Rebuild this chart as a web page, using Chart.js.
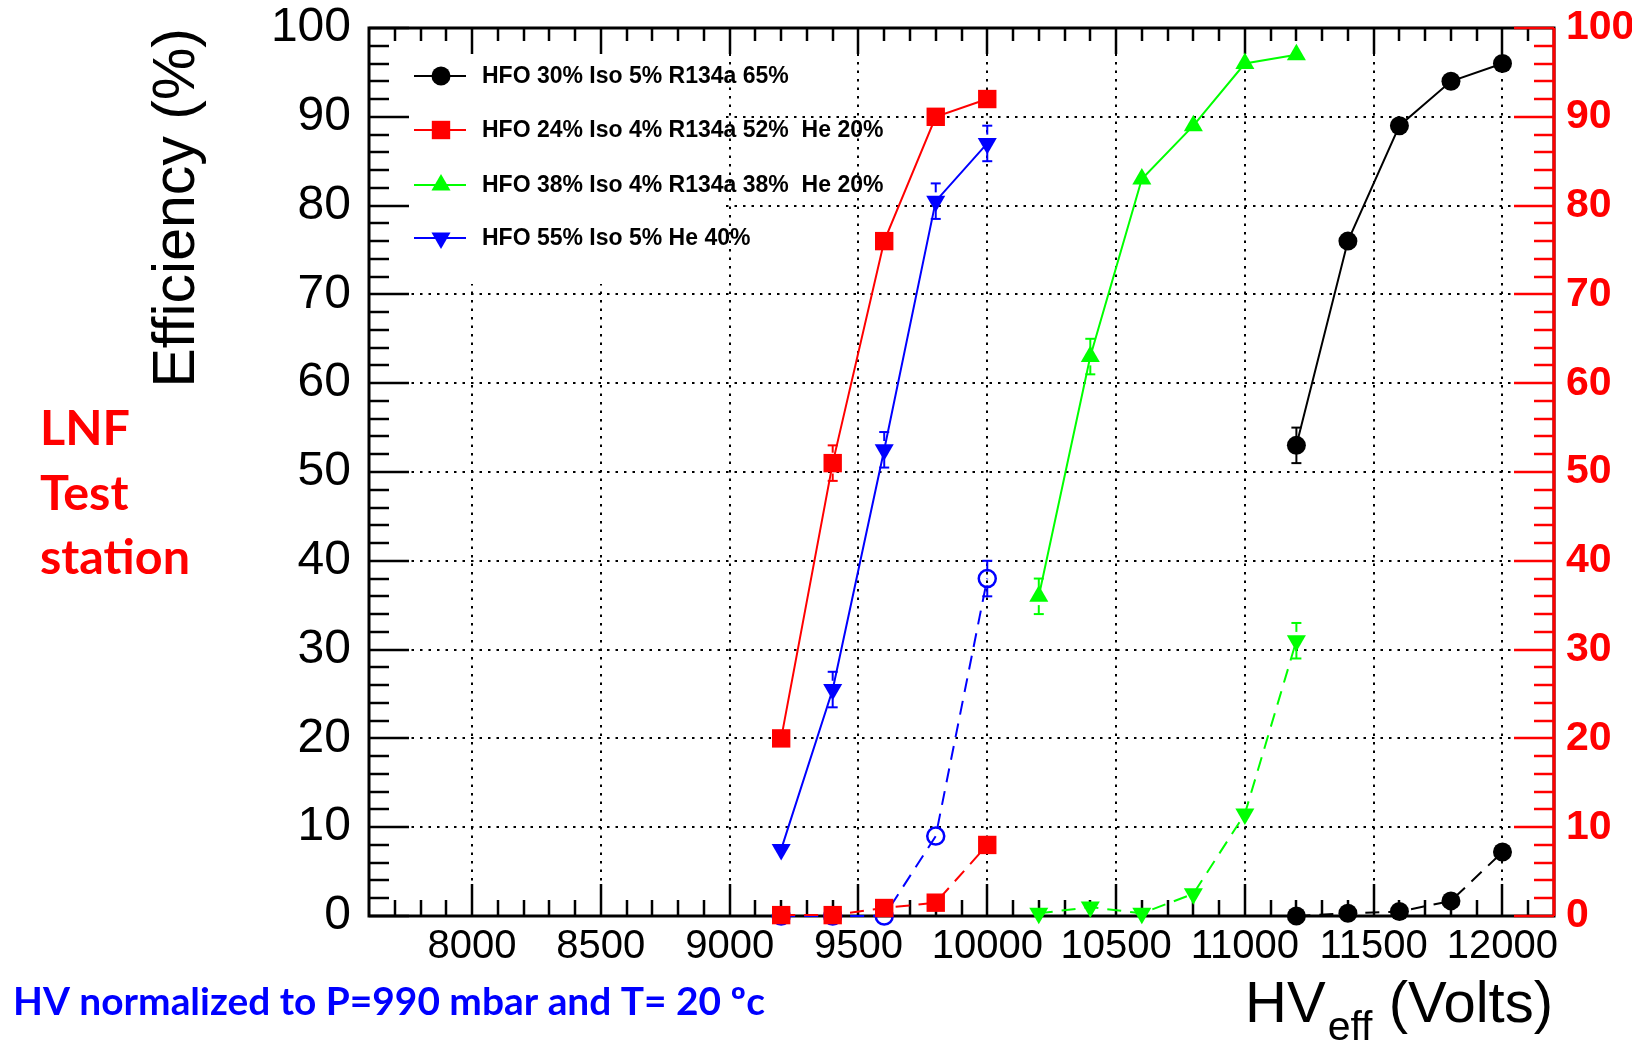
<!DOCTYPE html>
<html>
<head>
<meta charset="utf-8">
<script src="https://cdn.jsdelivr.net/npm/chart.js@4.4.1/dist/chart.umd.min.js"></script>
<style>
  html, body { margin: 0; padding: 0; background: #fff; }
  #wrap { width: 1632px; height: 1043px; }
</style>
</head>
<body>
<div id="wrap"><canvas id="c" width="1632" height="1043"></canvas></div>
<script>
// HV (volts) and efficiency (%); dashed = second curve of each mixture
const hvBlack = [11200, 11400, 11600, 11800, 12000];
const effBlack = [53, 76, 89, 94, 96];
const errBlack = [2, 0, 0, 0, 0];
const effBlackDash = [0, 0.3, 0.5, 1.7, 7.2];

const hvRed = [9200, 9400, 9600, 9800, 10000];
const effRed = [20, 51, 76, 90, 92];
const errRed = [0, 2, 0, 0, 0];
const effRedDash = [0.1, 0.1, 0.9, 1.5, 8];

const hvGreen = [10200, 10400, 10600, 10800, 11000, 11200];
const effGreen = [36, 63, 83, 89, 96, 97];
const errGreen = [2, 2, 0, 0, 0, 0];
const effGreenDash = [0.3, 1.0, 0.3, 2.5, 11.5, 31];
const errGreenDash = [0, 0, 0, 0, 0, 2];

const hvBlue = [9200, 9400, 9600, 9800, 10000];
const effBlue = [7.5, 25.5, 52.5, 80.5, 87];
const errBlue = [0, 2, 2, 2, 2];
const effBlueDash = [0, 0, 0, 9, 38];
const errBlueDash = [0, 0, 0, 0, 2];

const xTickValues = [8000, 8500, 9000, 9500, 10000, 10500, 11000, 11500, 12000];
const legendLabels = [
  'HFO 30% Iso 5% R134a 65%',
  'HFO 24% Iso 4% R134a 52%  He 20%',
  'HFO 38% Iso 4% R134a 38%  He 20%',
  'HFO 55% Iso 5% He 40%',
];

const SANS = '"Liberation Sans", Arial, Helvetica, sans-serif';
const CAL = 'Lato, "Open Sans", sans-serif';

const CIRCLE = { style: 'circle', r: 9.5 };
const SQUARE = { style: 'rect', r: 13 };
const TRI_UP = { style: 'triangle', r: 11 };
const TRI_DOWN = { style: 'triangle', r: 11, rot: 180 };
const OPEN = { style: 'circle', r: 8.5, open: true };

function pts(xs, ys, errs) {
  return xs.map((x, i) => ({ x, y: ys[i], err: errs ? errs[i] : 0 }));
}

function makeSeries(label, xs, ys, errs, color, marker, dashed) {
  return {
    label,
    data: pts(xs, ys, errs),
    borderColor: color,
    backgroundColor: color,
    borderWidth: 2,
    borderDash: dashed ? [14, 9] : [],
    pointStyle: marker.style,
    pointRadius: marker.r,
    pointHoverRadius: marker.r,
    pointRotation: marker.rot || 0,
    pointBackgroundColor: marker.open ? 'rgba(0,0,0,0)' : color,
    pointBorderColor: color,
    pointBorderWidth: marker.open ? 2.5 : 0,
    marker,
    tension: 0,
    fill: false,
    clip: false,
    yAxisID: 'y',
  };
}

const datasets = [
  makeSeries(legendLabels[0], hvBlack, effBlack, errBlack, '#000000', CIRCLE, false),
  makeSeries('', hvBlack, effBlackDash, null, '#000000', CIRCLE, true),
  makeSeries(legendLabels[1], hvRed, effRed, errRed, '#ff0000', SQUARE, false),
  makeSeries('', hvRed, effRedDash, null, '#ff0000', SQUARE, true),
  makeSeries(legendLabels[2], hvGreen, effGreen, errGreen, '#00ff00', TRI_UP, false),
  makeSeries('', hvGreen, effGreenDash, errGreenDash, '#00ff00', TRI_DOWN, true),
  makeSeries(legendLabels[3], hvBlue, effBlue, errBlue, '#0000ff', TRI_DOWN, false),
  makeSeries('', hvBlue, effBlueDash, errBlueDash, '#0000ff', OPEN, true),
];

function seg(ctx, x1, y1, x2, y2) {
  ctx.beginPath();
  ctx.moveTo(x1, y1);
  ctx.lineTo(x2, y2);
  ctx.stroke();
}

function fitFont(ctx, text, weight, family, width) {
  ctx.font = `${weight} 40px ${family}`;
  return 40 * width / ctx.measureText(text).width;
}

function noPad(s) {
  s.paddingTop = 0;
  s.paddingBottom = 0;
  s.paddingLeft = 0;
  s.paddingRight = 0;
}

const rootFrame = {
  id: 'rootFrame',
  beforeDatasetsDraw(chart) {
    const { ctx, chartArea: a, scales: { x, y } } = chart;
    ctx.save();

    // dotted grid
    ctx.strokeStyle = '#000';
    ctx.lineWidth = 2;
    ctx.setLineDash([2.5, 6]);
    xTickValues.forEach((v) => {
      const px = Math.round(x.getPixelForValue(v));
      seg(ctx, px, a.top, px, a.bottom);
    });
    for (let v = 10; v < 100; v += 10) {
      const py = Math.round(y.getPixelForValue(v));
      seg(ctx, a.left, py, a.right, py);
    }
    ctx.setLineDash([]);

    // legend box hides the grid
    ctx.fillStyle = '#fff';
    ctx.fillRect(a.left, a.top, 353, 256);

    // frame
    ctx.strokeStyle = '#000';
    ctx.lineWidth = 3;
    ctx.strokeRect(a.left, a.top, a.right - a.left, a.bottom - a.top);

    // x ticks (bottom + top)
    ctx.lineWidth = 2.5;
    for (let v = 7700; v <= 12100; v += 100) {
      const px = Math.round(x.getPixelForValue(v));
      const major = v % 500 === 0;
      seg(ctx, px, a.bottom, px, a.bottom - (major ? 32 : 16));
      seg(ctx, px, a.top, px, a.top + (major ? 26 : 13));
    }
    // left y ticks
    for (let v = 0; v <= 100; v += 2) {
      const py = Math.round(y.getPixelForValue(v));
      seg(ctx, a.left, py, a.left + (v % 10 === 0 ? 40 : 20), py);
    }
    // right (red) axis
    ctx.strokeStyle = '#ff0000';
    ctx.lineWidth = 3;
    seg(ctx, a.right, a.top, a.right, a.bottom);
    ctx.lineWidth = 2.5;
    for (let v = 0; v <= 100; v += 2) {
      const py = Math.round(y.getPixelForValue(v));
      seg(ctx, a.right, py, a.right - (v % 10 === 0 ? 40 : 20), py);
    }

    // error bars, gap where the marker sits
    chart.data.datasets.forEach((ds) => {
      ctx.strokeStyle = ds.borderColor;
      ctx.lineWidth = 2;
      ds.data.forEach((p) => {
        if (!p.err) return;
        const px = x.getPixelForValue(p.x);
        const py = y.getPixelForValue(p.y);
        const hi = y.getPixelForValue(p.y + p.err);
        const lo = y.getPixelForValue(p.y - p.err);
        const gap = ds.marker.r * 0.8;
        if (py - hi > gap) seg(ctx, px, hi, px, py - gap);
        if (lo - py > gap) seg(ctx, px, py + gap, px, lo);
        seg(ctx, px - 5, hi, px + 5, hi);
        seg(ctx, px - 5, lo, px + 5, lo);
      });
    });
    ctx.restore();
  },
  afterDraw(chart) {
    const { ctx, chartArea: a } = chart;
    ctx.save();

    // legend
    const rows = [48, 102, 157, 210];
    const solid = chart.data.datasets.filter((d) => d.label);
    solid.forEach((ds, i) => {
      const yy = a.top + rows[i];
      ctx.strokeStyle = ds.borderColor;
      ctx.fillStyle = ds.borderColor;
      ctx.lineWidth = 2;
      seg(ctx, a.left + 45, yy, a.left + 97, yy);
      Chart.helpers.drawPoint(ctx, {
        pointStyle: ds.marker.style,
        radius: ds.marker.r,
        rotation: ds.marker.rot || 0,
        borderWidth: 0,
      }, a.left + 72, yy);
      ctx.fillStyle = '#000';
      ctx.font = `bold 23px ${SANS}`;
      ctx.textBaseline = 'middle';
      ctx.textAlign = 'left';
      ctx.fillText(ds.label, a.left + 113, yy + 1);
    });

    // y title
    ctx.fillStyle = '#000';
    ctx.font = `59px ${SANS}`;
    ctx.textBaseline = 'alphabetic';
    ctx.save();
    ctx.translate(194, a.top);
    ctx.rotate(-Math.PI / 2);
    ctx.textAlign = 'right';
    ctx.fillText('Efficiency (%)', 0, 0);
    ctx.restore();

    // x title HV_eff (Volts)
    ctx.textAlign = 'left';
    ctx.font = `58px ${SANS}`;
    const wHV = ctx.measureText('HV').width;
    const wVolts = ctx.measureText(' (Volts)').width;
    ctx.font = `41px ${SANS}`;
    const wEff = ctx.measureText('eff').width;
    const tx = 1551 - wHV - wEff - wVolts;
    ctx.font = `58px ${SANS}`;
    ctx.fillText('HV', tx, 1022);
    ctx.font = `41px ${SANS}`;
    ctx.fillText('eff', tx + wHV + 2, 1040);
    ctx.font = `58px ${SANS}`;
    ctx.fillText(' (Volts)', tx + wHV + wEff + 2, 1022);

    // LNF Test station
    ctx.fillStyle = '#ff0000';
    const sz = fitFont(ctx, 'station', 'bold', CAL, 150);
    ctx.font = `bold ${sz}px ${CAL}`;
    ctx.fillText('LNF', 40, 445);
    ctx.fillText('Test', 40, 510);
    ctx.fillText('station', 40, 574);

    // normalisation note
    const note = 'HV normalized to P=990 mbar and T= 20 ºc';
    ctx.fillStyle = '#0000ff';
    const nz = fitFont(ctx, note, 'bold', CAL, 752);
    ctx.font = `bold ${nz}px ${CAL}`;
    ctx.fillText(note, 13, 1015);

    ctx.restore();
  },
};

new Chart(document.getElementById('c'), {
  type: 'line',
  data: { datasets },
  options: {
    responsive: false,
    devicePixelRatio: 1,
    animation: false,
    events: [],
    layout: { padding: { top: 28, left: 0, right: 0, bottom: 0 } },
    plugins: { legend: { display: false }, tooltip: { enabled: false } },
    scales: {
      x: {
        type: 'linear',
        min: 7600,
        max: 12200,
        afterBuildTicks: (s) => { s.ticks = xTickValues.map((v) => ({ value: v })); },
        afterFit: (s) => { s.height = 127; noPad(s); },
        grid: { display: false },
        border: { display: false },
        ticks: {
          color: '#000',
          font: { family: SANS, size: 40 },
          padding: -1,
          maxRotation: 0,
          autoSkip: false,
          callback: (v) => String(v),
        },
      },
      y: {
        min: 0,
        max: 100,
        afterFit: (s) => { s.width = 369; noPad(s); },
        grid: { display: false },
        border: { display: false },
        ticks: { stepSize: 10, color: '#000', font: { family: SANS, size: 48 }, padding: 10 },
      },
      y1: {
        position: 'right',
        min: 0,
        max: 100,
        afterFit: (s) => { s.width = 78; noPad(s); },
        grid: { display: false },
        border: { display: false },
        ticks: { stepSize: 10, color: '#ff0000', font: { family: SANS, size: 41, weight: 'bold' }, padding: 4 },
      },
    },
  },
  plugins: [rootFrame],
});
</script>
</body>
</html>
